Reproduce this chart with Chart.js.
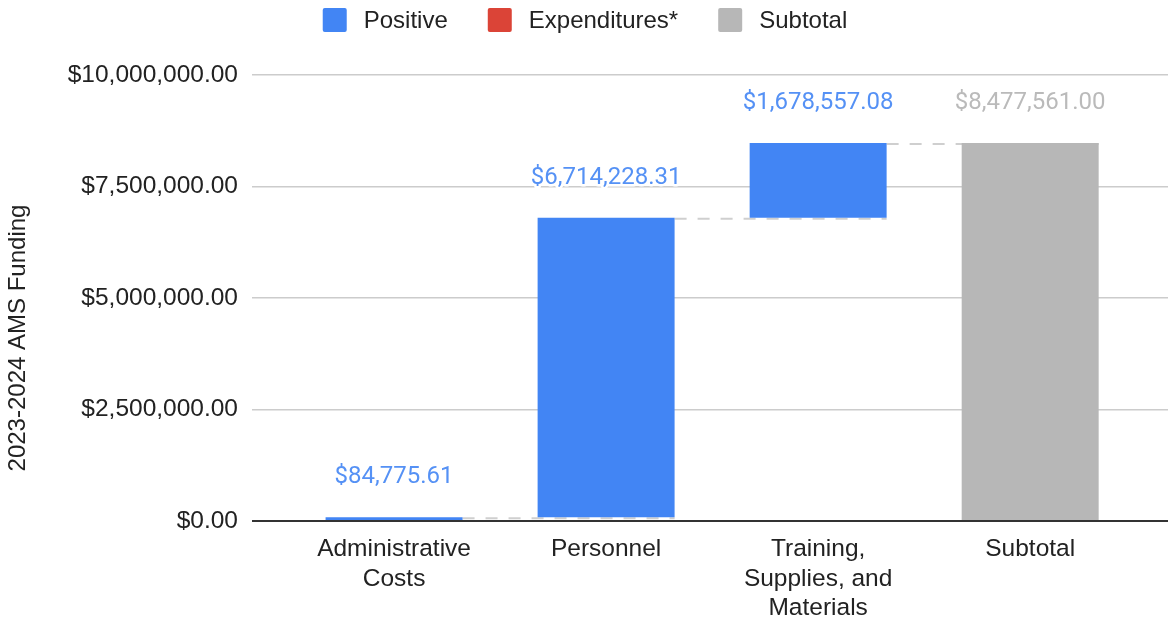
<!DOCTYPE html>
<html>
<head>
<meta charset="utf-8">
<script src="https://cdn.jsdelivr.net/npm/chart.js@4.4.1/dist/chart.umd.min.js"></script>
<style>
  html, body { margin: 0; padding: 0; background: #fff; }
  #wrap { width: 1170px; height: 621px; position: relative; }
</style>
</head>
<body>
<div id="wrap"><canvas id="chart"></canvas></div>
<script>
        // Data
        const CATEGORIES = [['Administrative', 'Costs'], 'Personnel', ['Training,', 'Supplies, and', 'Materials'], 'Subtotal'];
        const STEP_VALUES = [84775.61, 6714228.31, 1678557.08];
        const SUBTOTAL_VALUE = 8477561.00;
        const Y_TICKS = [0, 2500000, 5000000, 7500000, 10000000];
        const LEGEND_NAMES = ['Positive', 'Expenditures*', 'Subtotal'];
        const LEGEND_COLORS = ['#4285f4', '#db4437', '#b7b7b7'];
        const Y_TITLE = '2023-2024 AMS Funding';

        const BAR_COLORS = ['#4285f4', '#4285f4', '#4285f4', '#b7b7b7'];
        const LABEL_COLORS = ['#5591f5', '#5591f5', '#5591f5', '#bababa'];
        const AXIS_FONT = { family: "'Liberation Sans', Arial, sans-serif", size: 24.5 };
        const LEGEND_SIZE = 24;
        const TEXT_COLOR = '#222222';

        // Waterfall ranges: running total for steps, then the subtotal from zero
        let running = 0;
        const ranges = STEP_VALUES.map(v => {
            const r = [running, running + v];
            running += v;
            return r;
        });
        ranges.push([0, SUBTOTAL_VALUE]);
        const labelValues = [...STEP_VALUES, SUBTOTAL_VALUE];

        const money = v => '$' + v.toLocaleString('en-US', { minimumFractionDigits: 2, maximumFractionDigits: 2 });

        // Dashed connectors between consecutive bars (drawn under the bars)
        const connectors = {
            id: 'connectors',
            beforeDatasetsDraw(chart) {
                const { ctx, scales: { y } } = chart;
                const bars = chart.getDatasetMeta(0).data;
                ctx.save();
                ctx.strokeStyle = '#cfcfcf';
                ctx.lineWidth = 2;
                ctx.setLineDash([12, 11]);
                for (let i = 0; i < bars.length - 1; i++) {
                    const py = y.getPixelForValue(ranges[i][1]) + 1;
                    const x0 = bars[i].x + bars[i].width / 2;
                    const x1 = bars[i + 1].x + bars[i + 1].width / 2;
                    ctx.beginPath();
                    ctx.moveTo(x0, py);
                    ctx.lineTo(x1, py);
                    ctx.stroke();
                }
                ctx.restore();
            }
        };

        // Value labels above each bar
        const valueLabels = {
            id: 'valueLabels',
            afterDatasetsDraw(chart) {
                const { ctx } = chart;
                const bars = chart.getDatasetMeta(0).data;
                ctx.save();
                ctx.font = "24px Roboto, 'Liberation Sans', sans-serif";
                ctx.textAlign = 'center';
                ctx.textBaseline = 'middle';
                ctx.lineJoin = 'round';
                bars.forEach((bar, i) => {
                    const top = Math.min(bar.y, bar.base);
                    const text = money(labelValues[i]);
                    ctx.strokeStyle = '#ffffff';
                    ctx.lineWidth = 5;
                    ctx.strokeText(text, bar.x, top - 40);
                    ctx.fillStyle = LABEL_COLORS[i];
                    ctx.fillText(text, bar.x, top - 40);
                });
                ctx.restore();
            }
        };

        // Legend row at the top and the y axis title (placed like the original, below centre)
        const legendAndTitle = {
            id: 'legendAndTitle',
            afterDraw(chart) {
                const { ctx, width } = chart;
                const box = 24, gapText = 17, gapItem = 40, cy = 20;
                ctx.save();
                ctx.font = `${LEGEND_SIZE}px ${AXIS_FONT.family}`;
                ctx.textBaseline = 'middle';
                const widths = LEGEND_NAMES.map(t => ctx.measureText(t).width);
                const total = widths.reduce((s, w) => s + box + gapText + w, 0) + gapItem * (LEGEND_NAMES.length - 1);
                let x = (width - total) / 2;
                LEGEND_NAMES.forEach((name, i) => {
                    ctx.fillStyle = LEGEND_COLORS[i];
                    ctx.beginPath();
                    ctx.roundRect(x, cy - box / 2, box, box, 2);
                    ctx.fill();
                    ctx.fillStyle = TEXT_COLOR;
                    ctx.fillText(name, x + box + gapText, cy + 1);
                    x += box + gapText + widths[i] + gapItem;
                });

                ctx.translate(18, 338);
                ctx.rotate(-Math.PI / 2);
                ctx.textAlign = 'center';
                ctx.fillText(Y_TITLE, 0, 0);
                ctx.restore();
            }
        };

        const myChart = new Chart(document.getElementById('chart'), {
            type: 'bar',
            data: {
                datasets: [{
                    data: ranges.map((r, i) => ({ x: i, y: r })),
                    backgroundColor: BAR_COLORS,
                    borderWidth: 0,
                    barPercentage: 1,
                    categoryPercentage: 0.646
                }]
            },
            options: {
                responsive: true,
                maintainAspectRatio: false,
                animation: false,
                layout: { padding: { top: 75, right: 2, left: 0, bottom: 0 } },
                plugins: { legend: { display: false }, tooltip: { enabled: false } },
                scales: {
                    x: {
                        type: 'linear',
                        offset: false,
                        min: -0.67,
                        max: 3.65,
                        grid: { display: false, drawTicks: false },
                        border: { display: false },
                        afterBuildTicks: s => { s.ticks = CATEGORIES.map((_, i) => ({ value: i })); },
                        afterFit: s => { s.height = 100; },
                        ticks: {
                            callback: v => CATEGORIES[v],
                            font: AXIS_FONT,
                            color: TEXT_COLOR,
                            padding: 14,
                            maxRotation: 0,
                            autoSkip: false
                        }
                    },
                    y: {
                        min: 0,
                        max: 10000000,
                        afterBuildTicks: s => { s.ticks = Y_TICKS.map(v => ({ value: v })); },
                        afterFit: s => { s.width = 252; },
                        border: { display: false },
                        grid: {
                            drawTicks: false,
                            color: c => c.tick.value === 0 ? '#333333' : '#cccccc',
                            lineWidth: c => c.tick.value === 0 ? 2 : 1.5
                        },
                        ticks: {
                            callback: v => money(v),
                            font: AXIS_FONT,
                            color: TEXT_COLOR,
                            padding: 14
                        }
                    }
                }
            },
            plugins: [connectors, valueLabels, legendAndTitle]
        });
</script>
</body>
</html>
